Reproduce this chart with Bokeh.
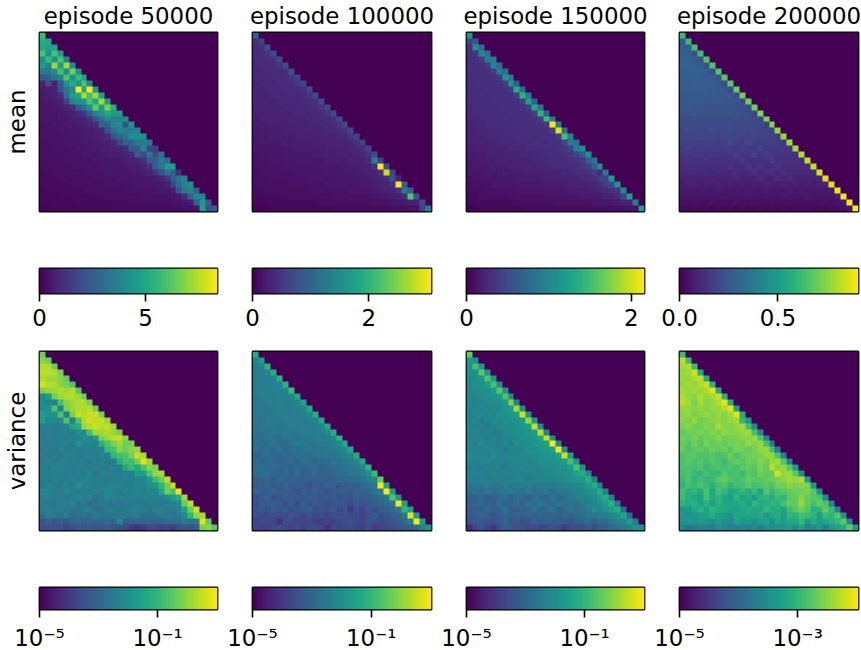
import numpy as np
from bokeh.embed import file_html
from bokeh.layouts import column, row
from bokeh.models import FixedTicker, LinearColorMapper, LogColorMapper, Range1d
from bokeh.palettes import Viridis256
from bokeh.plotting import figure
from bokeh.resources import INLINE

episodes = ["episode 50000", "episode 100000", "episode 150000", "episode 200000"]
row_names = ["mean", "variance"]

# colour-scale upper limits
mean_high = [8.4, 3.08, 2.16, 0.91]
var_high = [10.7, 10.7, 10.7, 0.0107]
var_low = 1e-5
mean_ticks = [[0, 5], [0, 2], [0, 2], [0, 0.5]]
mean_tick_labels = [["0", "5"], ["0", "2"], ["0", "2"], ["0.0", "0.5"]]
var_ticks = [[1e-5, 1e-1], [1e-5, 1e-1], [1e-5, 1e-1], [1e-5, 1e-3]]
var_tick_labels = [["10⁻⁵", "10⁻¹"], ["10⁻⁵", "10⁻¹"], ["10⁻⁵", "10⁻¹"], ["10⁻⁵", "10⁻³"]]

# lower-triangular cells, each as a percentage of that panel's colour scale
mean_50000 = [
[68],
[62,60],
[60,58,58],
[72,50,70,55],
[50,68,50,72,45],
[55,45,85,55,85,50],
[42,40,50,70,48,78,50],
[28,30,38,45,72,50,68,58],
[10,22,10,28,50,62,50,72,48],
[8,8,10,25,38,50,99,60,99,55],
[7,8,9,13,35,55,60,88,70,85,58],
[6,7,8,9,20,45,50,52,72,60,85,55],
[6,6,7,8,10,13,28,38,50,75,55,80,62],
[6,6,6,7,8,9,12,16,30,45,50,60,55,55],
[5,6,6,7,7,8,9,10,14,25,35,48,42,42,50],
[5,5,6,6,7,7,8,9,10,12,30,30,45,50,25,50],
[5,5,5,6,6,7,7,8,8,9,11,25,35,45,42,42,46],
[5,5,5,5,6,6,7,7,8,8,9,11,25,32,38,50,50,50],
[4,5,5,5,5,6,6,7,7,8,8,9,11,20,32,32,42,42,40],
[4,4,5,5,5,5,6,6,7,7,8,8,9,10,13,28,28,45,20,18],
[4,4,4,5,5,5,5,6,6,6,7,7,8,8,9,11,28,22,38,22,38],
[4,4,4,4,5,5,5,5,5,6,6,6,7,7,8,9,10,13,28,30,42,35],
[3,4,4,4,4,5,5,5,5,5,6,6,6,7,7,8,8,10,14,30,38,55,55],
[3,3,4,4,4,4,4,5,5,5,5,6,6,6,6,7,7,8,10,15,25,38,30,13],
[3,3,3,4,4,4,4,4,4,5,5,5,5,6,6,6,6,7,7,8,10,15,30,38,45],
[3,3,3,3,3,4,4,4,4,4,4,5,5,5,5,5,6,6,6,7,7,8,20,35,45,50],
[2,3,3,3,3,3,3,4,4,4,4,4,4,4,5,5,5,5,5,6,6,6,8,25,40,45,30],
[2,2,2,3,3,3,3,3,3,3,4,4,4,4,4,4,4,5,5,5,5,5,6,7,12,30,45,45],
[2,2,2,2,2,2,3,3,3,3,3,3,3,3,3,4,4,4,4,4,4,4,5,5,6,8,30,52,28],
[1,1,2,2,2,2,2,2,2,2,2,2,3,3,3,3,3,3,3,3,3,3,3,4,4,4,5,56,25,28],
]
mean_100000 = [
[30],
[14,18],
[12,14,24],
[12,12,15,24],
[12,12,12,14,22],
[11,12,12,12,15,24],
[11,11,12,12,12,14,25],
[11,11,11,12,12,12,16,20],
[10,11,11,11,12,12,12,15,20],
[10,10,11,11,11,12,12,12,14,22],
[10,10,10,11,11,11,12,12,12,15,22],
[10,10,10,10,11,11,11,11,12,12,14,22],
[9,9,10,10,10,11,11,11,11,12,12,15,22],
[9,9,9,10,10,10,10,11,11,11,12,12,15,22],
[8,9,9,9,9,10,10,10,10,11,11,11,12,14,22],
[8,8,8,9,9,9,9,10,10,10,10,11,11,12,15,22],
[7,8,8,8,8,9,9,9,9,10,10,10,11,11,12,14,20],
[7,7,7,8,8,8,8,9,9,9,9,10,10,10,11,11,15,20],
[6,7,7,7,7,8,8,8,8,8,9,9,9,10,10,10,11,14,18],
[6,6,6,7,7,7,7,8,8,8,8,8,9,9,9,10,10,11,14,20],
[5,6,6,6,6,7,7,7,7,7,8,8,8,8,9,9,9,10,11,15,24],
[5,5,5,6,6,6,6,7,7,7,7,7,8,8,8,8,9,9,10,12,45,18],
[5,5,5,5,5,6,6,6,6,6,7,7,7,7,7,8,8,8,9,10,14,99,24],
[4,5,5,5,5,5,5,6,6,6,6,6,7,7,7,7,7,8,8,9,10,14,92,20],
[4,4,4,5,5,5,5,5,5,6,6,6,6,6,6,7,7,7,7,8,9,10,14,25,10],
[4,4,4,4,4,4,5,5,5,5,5,5,6,6,6,6,6,6,7,7,8,9,10,14,99,30],
[3,3,4,4,4,4,4,4,4,5,5,5,5,5,5,5,6,6,6,6,7,8,9,10,14,40,30],
[3,3,3,3,3,4,4,4,4,4,4,4,4,5,5,5,5,5,5,5,6,6,7,8,9,12,72,25],
[2,2,3,3,3,3,3,3,3,3,3,4,4,4,4,4,4,4,4,4,5,5,5,6,6,7,9,10,22],
[1,1,1,2,2,2,2,2,2,2,2,2,2,3,3,3,3,3,3,3,3,3,3,4,4,4,5,6,20,42],
]
mean_150000 = [
[52],
[20,26],
[14,50,36],
[14,16,48,38],
[14,14,18,42,42],
[14,14,14,17,45,35],
[14,14,14,14,17,42,35],
[13,14,14,14,14,18,52,40],
[13,13,14,14,14,14,18,52,30],
[13,13,13,14,14,14,14,18,62,35],
[12,13,13,13,14,14,14,14,18,65,42],
[12,12,13,13,13,14,14,14,14,18,55,30],
[12,12,12,13,13,13,14,14,14,14,18,60,38],
[11,12,12,12,13,13,13,14,14,14,14,18,65,30],
[11,11,12,12,12,13,13,13,14,14,14,14,18,68,42],
[10,11,11,12,12,12,13,13,13,14,14,14,14,18,99,40],
[10,10,11,11,12,12,12,13,13,13,14,14,14,14,18,95,38],
[9,10,10,11,11,11,12,12,12,13,13,13,14,14,14,18,70,42],
[9,9,10,10,10,11,11,11,12,12,12,13,13,13,14,14,20,42,38],
[8,9,9,9,10,10,10,11,11,11,12,12,12,13,13,14,15,20,42,48],
[8,8,8,9,9,9,10,10,10,11,11,11,12,12,13,13,14,15,20,30,50],
[7,7,8,8,8,9,9,9,10,10,10,11,11,11,12,12,13,14,15,18,28,38],
[6,7,7,7,8,8,8,9,9,9,10,10,10,11,11,12,12,13,14,15,18,30,50],
[6,6,6,7,7,7,8,8,8,8,9,9,9,10,10,10,11,11,12,13,14,18,12,40],
[5,5,6,6,6,7,7,7,7,8,8,8,8,9,9,9,10,10,10,11,12,14,18,20,55],
[4,5,5,5,6,6,6,6,7,7,7,7,7,8,8,8,8,9,9,10,10,11,14,18,22,52],
[4,4,4,5,5,5,5,5,6,6,6,6,6,7,7,7,7,8,8,8,9,9,10,12,14,15,48],
[3,3,4,4,4,4,4,5,5,5,5,5,5,5,6,6,6,6,6,7,7,8,8,9,10,12,20,55],
[2,3,3,3,3,3,3,3,4,4,4,4,4,4,4,5,5,5,5,5,5,6,6,6,7,8,10,10,42],
[1,1,2,2,2,2,2,2,2,2,3,3,3,3,3,3,3,3,3,3,3,4,4,4,4,4,5,5,5,55],
]
mean_200000 = [
[68],
[28,68],
[30,28,70],
[30,30,25,68],
[31,30,29,25,72],
[31,31,30,29,25,72],
[30,31,30,30,29,24,72],
[30,30,30,30,29,29,25,74],
[29,29,30,29,29,29,28,22,74],
[29,29,29,29,29,28,28,28,24,76],
[28,28,28,28,28,28,27,27,27,23,78],
[27,27,28,27,27,27,27,26,26,26,22,78],
[26,27,26,26,26,26,26,26,25,25,25,22,78],
[25,25,26,25,25,25,25,25,25,24,24,24,21,80],
[24,24,24,24,24,24,24,24,23,24,23,23,23,20,80],
[23,23,23,23,23,23,22,23,23,22,22,22,22,22,19,82],
[21,22,22,22,21,22,21,21,22,21,21,21,21,20,20,18,82],
[20,20,20,21,20,20,20,20,20,20,20,19,20,19,19,19,17,84],
[19,19,19,19,19,19,18,19,22,19,18,22,18,18,18,18,18,16,85],
[17,18,17,18,17,17,17,18,17,17,18,17,17,20,17,17,16,16,15,86],
[16,16,16,16,16,16,16,15,16,19,15,15,20,15,18,15,15,15,15,14,88],
[14,15,14,14,15,14,14,14,14,14,17,14,14,14,14,18,14,14,14,14,13,90],
[13,13,13,13,13,13,13,13,15,13,13,16,13,15,13,13,16,13,13,12,12,12,90],
[11,12,12,11,12,11,12,11,11,12,11,11,14,11,12,14,11,14,11,11,11,11,11,93],
[10,10,10,10,10,10,10,10,10,11,10,10,10,12,10,10,13,10,12,10,10,10,10,10,95],
[8,9,9,8,9,8,9,8,9,8,9,8,9,8,10,9,8,10,8,10,8,9,8,9,9,95],
[7,7,7,7,7,7,8,7,7,7,7,8,7,7,8,7,7,7,8,7,8,7,7,7,7,7,97],
[6,6,6,6,6,6,6,6,6,6,6,6,6,6,6,6,6,7,6,6,6,7,6,6,6,6,8,98],
[4,4,5,4,4,5,4,4,4,5,4,4,5,4,4,5,4,4,5,4,4,4,4,4,5,4,5,6,98],
[2,2,3,2,3,2,3,2,3,2,3,2,2,3,2,3,2,3,2,3,3,3,2,3,2,3,3,4,6,100],
]
var_50000 = [
[78],
[82,78],
[88,88,78],
[90,90,88,80],
[88,85,85,82,76],
[94,88,88,82,80,72],
[80,84,85,88,85,88,74],
[48,56,78,85,88,88,85,78],
[48,46,42,70,82,85,88,88,80],
[50,50,72,45,80,84,88,88,90,78],
[56,50,50,72,42,80,92,88,92,92,80],
[56,48,48,48,72,44,72,88,92,90,92,84],
[42,42,42,42,45,58,62,85,88,92,90,90,84],
[42,44,42,42,44,42,50,46,70,85,85,88,85,80],
[42,44,42,44,42,44,44,50,46,54,80,85,90,92,82],
[42,40,42,42,44,42,50,44,46,44,64,72,80,85,78,80],
[40,42,40,46,40,42,42,44,42,44,46,68,70,82,78,82,84],
[42,40,42,40,42,42,40,42,44,42,46,44,66,70,72,80,92,86],
[40,42,40,44,44,42,42,42,40,42,44,42,42,62,70,68,78,95,84],
[44,42,46,44,42,42,44,44,42,42,42,40,44,42,60,68,60,72,82,80],
[42,42,44,44,42,42,44,42,46,40,44,42,42,42,44,44,56,56,72,84,86],
[42,42,44,42,42,44,44,46,46,42,42,40,42,42,44,42,44,46,52,68,78,90],
[40,46,42,42,44,42,50,44,46,42,42,44,46,46,44,42,44,44,50,52,66,78,92],
[46,46,42,40,46,42,42,44,42,44,42,46,46,42,46,44,46,42,46,44,60,78,70,98],
[44,44,40,42,40,42,46,42,44,38,40,46,44,42,42,44,42,44,44,44,44,48,56,62,85],
[42,40,38,42,42,46,38,40,36,38,40,40,38,38,40,40,42,40,42,40,40,42,44,48,78,90],
[42,44,40,42,40,38,38,42,44,36,38,42,40,38,42,42,44,42,38,44,42,40,40,44,58,78,92],
[36,42,40,38,42,36,36,38,36,42,38,38,40,38,40,40,42,36,36,38,40,42,38,40,48,66,84,86],
[26,30,26,30,26,32,34,30,32,32,32,34,32,46,30,32,32,32,34,32,32,34,36,34,40,38,40,96,76],
[24,26,26,24,20,24,28,26,28,26,26,28,26,24,22,16,14,16,22,22,18,20,16,24,26,24,28,80,82,74],
]
var_100000 = [
[62],
[44,56],
[42,44,64],
[42,42,46,62],
[42,42,42,44,64],
[42,42,42,44,44,64],
[42,42,44,44,44,46,68],
[40,42,42,42,44,44,46,60],
[40,40,42,42,44,42,44,46,58],
[40,40,40,42,42,42,42,44,46,60],
[40,40,40,40,42,42,42,42,44,48,62],
[40,38,40,40,40,42,42,42,42,44,46,60],
[38,40,40,40,40,40,42,42,42,42,44,46,60],
[38,38,38,40,38,40,40,40,42,42,42,44,48,62],
[36,36,38,38,36,38,40,38,40,42,42,42,44,46,64],
[36,36,34,38,36,34,38,40,40,38,40,42,42,44,48,62],
[38,34,36,34,38,34,36,36,38,40,38,40,40,42,44,48,60],
[32,34,36,34,32,36,34,36,36,34,38,38,40,38,42,44,46,62],
[34,32,34,36,32,34,36,32,36,36,32,36,36,38,38,40,42,46,60],
[36,38,34,36,34,34,32,36,32,34,36,32,34,36,36,38,40,42,46,64],
[34,36,36,34,32,34,30,36,30,32,34,30,32,34,36,36,38,40,44,50,68],
[30,32,34,30,34,32,32,30,30,30,30,32,30,32,34,34,34,36,38,42,46,76],
[28,30,32,28,30,32,28,30,28,26,30,28,30,30,26,30,32,30,34,36,40,99,58],
[32,30,28,32,28,30,30,26,30,28,30,28,26,28,30,30,28,32,30,32,38,40,99,54],
[26,28,32,24,26,30,28,30,26,30,28,26,28,30,24,28,26,30,28,30,32,36,40,72,52],
[24,30,28,30,28,24,28,24,30,26,28,26,24,26,28,26,22,28,26,28,30,32,36,38,99,58],
[26,28,24,30,26,28,24,26,28,30,24,26,24,28,22,26,16,26,20,26,24,28,30,34,40,66,56],
[24,22,22,24,22,24,26,24,22,26,22,24,22,24,24,26,22,24,20,24,28,24,26,30,32,40,96,56],
[20,22,24,20,14,24,22,20,20,22,18,18,20,18,22,24,24,22,20,26,24,22,24,26,28,34,42,99,54],
[20,18,20,22,24,22,18,22,18,22,24,20,14,22,20,22,24,20,20,24,18,20,22,24,26,28,30,34,44,52],
]
var_150000 = [
[76],
[52,50],
[50,70,54],
[50,50,74,52],
[48,50,52,72,54],
[48,50,50,54,72,48],
[46,48,50,50,54,74,50],
[46,46,48,50,50,54,72,48],
[46,44,46,48,48,50,54,82,46],
[44,46,46,46,48,48,52,54,86,48],
[44,46,48,46,46,50,50,52,56,92,50],
[44,46,42,46,48,46,50,50,52,56,84,54],
[46,44,46,42,46,46,48,50,50,52,56,90,48],
[44,46,44,46,42,44,48,48,50,50,52,56,90,44],
[44,44,46,42,46,44,46,46,48,50,50,52,58,92,50],
[46,44,48,46,44,42,46,44,50,48,50,52,52,58,99,46],
[44,46,44,46,46,46,42,46,46,48,50,50,52,54,58,98,50],
[48,46,46,44,48,44,46,46,46,48,48,48,50,52,52,58,92,56],
[46,44,46,46,44,46,44,46,46,46,46,48,50,50,50,52,56,70,52],
[42,44,42,44,44,46,42,46,44,46,44,46,48,48,48,50,50,56,72,50],
[44,46,44,42,46,42,46,44,46,44,46,46,46,48,48,50,50,52,58,62,48],
[44,42,44,42,44,44,42,44,44,46,42,44,44,46,46,48,48,50,52,54,64,46],
[38,40,40,42,38,40,42,40,40,42,42,40,40,42,42,44,44,46,46,50,54,62,44],
[36,38,36,38,36,38,40,42,38,38,40,38,38,40,36,40,40,42,44,46,50,52,62,44],
[30,32,34,30,32,34,36,32,36,34,30,36,34,32,38,34,36,40,42,44,46,48,56,62,42],
[30,32,34,32,30,36,32,34,36,32,38,36,38,36,34,38,36,38,36,40,44,46,50,56,64,40],
[28,30,30,34,30,32,36,30,28,32,34,36,32,34,38,32,34,38,36,38,42,50,46,50,56,62,36],
[28,30,32,30,26,30,34,30,32,30,32,30,34,30,32,30,34,32,34,36,40,38,42,44,48,50,60,34],
[24,28,28,26,26,28,32,26,28,24,26,30,28,30,28,30,28,26,30,32,34,30,36,34,40,44,46,56,40],
[12,22,26,20,16,24,30,28,26,26,22,24,20,22,26,24,18,22,24,24,28,24,28,30,34,36,40,44,50,52],
]
var_200000 = [
[68],
[90,68],
[86,88,68],
[84,86,92,62],
[84,84,88,90,62],
[84,86,84,88,92,64],
[86,84,86,84,88,96,62],
[88,84,82,88,84,86,92,64],
[90,86,80,86,82,84,88,96,62],
[84,84,82,84,82,84,84,88,96,58],
[82,84,80,82,84,82,84,82,86,96,62],
[82,80,84,78,80,82,84,82,84,86,66,52],
[80,82,78,78,82,80,86,82,82,84,86,70,46],
[76,78,78,80,78,82,80,84,82,82,84,86,70,46],
[78,76,80,76,78,78,82,78,80,80,82,82,84,72,44],
[76,74,78,74,80,76,78,76,78,80,78,84,82,84,70,40],
[76,72,74,76,74,78,76,78,74,80,78,76,80,84,84,70,42],
[72,74,74,72,72,74,70,72,78,72,76,78,80,80,84,84,72,44],
[72,74,72,74,70,74,72,68,74,76,74,78,76,82,78,84,86,74,42],
[72,72,70,72,68,70,72,70,72,70,74,76,74,80,76,90,82,84,74,52],
[70,72,68,66,70,68,68,74,70,72,68,74,72,78,76,76,94,84,84,74,48],
[68,72,66,70,66,68,74,76,72,70,72,76,74,74,76,78,80,82,86,84,88,54],
[66,70,68,72,68,64,70,72,66,70,70,74,70,72,74,72,78,78,82,80,82,80,52],
[70,64,66,62,72,60,70,66,60,62,66,62,68,60,74,66,72,74,76,78,78,80,74,50],
[68,62,60,58,70,62,66,60,56,66,58,62,54,64,66,62,68,66,74,76,82,76,74,72,48],
[64,62,64,58,64,58,64,60,60,60,62,56,66,62,62,66,64,70,76,76,84,76,70,76,72,46],
[52,54,60,64,58,66,62,60,58,56,60,62,60,60,66,62,62,58,68,74,78,74,64,66,76,68,44],
[52,50,52,56,58,62,56,56,50,60,60,60,58,62,52,60,62,56,66,64,70,68,66,56,68,66,74,50],
[50,54,52,54,52,50,54,50,48,58,52,54,50,56,58,48,58,56,60,60,66,52,62,56,60,62,66,74,46],
[46,38,42,44,44,42,50,46,44,44,48,44,48,42,50,50,50,52,54,48,56,46,48,54,42,54,58,62,76,54],
]

mean_panels = [mean_50000, mean_100000, mean_150000, mean_200000]
var_panels = [var_50000, var_100000, var_150000, var_200000]

FONT = "DejaVu Sans"
SIZE = "22.9px"
N = 30
LEFT = [39, 33, 31, 31]
FRAME_W = [178, 179, 178, 179]
RIGHT = [2, 4, 4, 2]


def to_matrix(rows):
    m = np.zeros((N, N))
    for r, cells in enumerate(rows):
        assert len(cells) == r + 1, (r, len(cells))
        m[r, : r + 1] = cells
    return m


def heat_figure(col, matrix, mapper, height, top, bottom, title=None, ylabel=None):
    p = figure(width=LEFT[col] + FRAME_W[col] + RIGHT[col], height=height,
               x_range=Range1d(0, N), y_range=Range1d(0, N),
               output_backend="svg", toolbar_location=None,
               min_border_left=LEFT[col], min_border_right=RIGHT[col],
               min_border_top=top, min_border_bottom=bottom, title=title)
    p.image(image=[np.flipud(matrix)], x=0, y=0, dw=N, dh=N, color_mapper=mapper)
    p.grid.visible = False
    p.xaxis.visible = False
    p.outline_line_color = "black"
    p.outline_line_width = 1.8
    p.background_fill_color = Viridis256[0]
    p.border_fill_color = None
    if title:
        p.title.text_font = FONT
        p.title.text_font_size = SIZE
        p.title.text_font_style = "normal"
        p.title.text_color = "black"
        p.title.align = "center"
        p.title.text_line_height = 1.0
        p.title.standoff = 7
    if ylabel:
        ax = p.yaxis[0]
        ax.axis_label = ylabel
        ax.axis_label_text_font = FONT
        ax.axis_label_text_font_size = SIZE
        ax.axis_label_text_font_style = "normal"
        ax.axis_label_text_color = "black"
        ax.axis_label_standoff = 10
        ax.major_tick_line_color = None
        ax.minor_tick_line_color = None
        ax.axis_line_color = None
        ax.major_label_text_font_size = "0px"
        ax.ticker = FixedTicker(ticks=[])
    else:
        p.yaxis.visible = False
    return p


def bar_figure(col, low, high, ticks, labels, log, height, top, bottom):
    kw = {"x_axis_type": "log"} if log else {}
    p = figure(width=LEFT[col] + FRAME_W[col] + RIGHT[col], height=height,
               x_range=Range1d(low, high), y_range=Range1d(0, 1),
               output_backend="svg", toolbar_location=None,
               min_border_left=LEFT[col], min_border_right=RIGHT[col],
               min_border_top=top, min_border_bottom=bottom, **kw)
    gradient = np.linspace(0, 1, 256).reshape(1, 256)
    p.image(image=[gradient], x=low, y=0, dw=high - low, dh=1,
            color_mapper=LinearColorMapper(palette=Viridis256, low=0, high=1))
    p.grid.visible = False
    p.yaxis.visible = False
    p.outline_line_color = "black"
    p.outline_line_width = 1.8
    p.border_fill_color = None
    ax = p.xaxis[0]
    ax.ticker = FixedTicker(ticks=ticks)
    ax.major_label_overrides = dict(zip(ticks, labels))
    ax.major_tick_in = 0
    ax.major_tick_out = 8
    ax.major_tick_line_width = 1.6
    ax.major_tick_line_color = "black"
    ax.minor_tick_line_color = None
    ax.axis_line_color = None
    ax.major_label_text_font = FONT
    ax.major_label_text_font_size = SIZE
    ax.major_label_text_color = "black"
    ax.major_label_standoff = 7
    return p


columns = []
for c in range(4):
    mean_high_c = mean_high[c]
    mean_m = to_matrix(mean_panels[c]) / 100 * mean_high_c
    var_pct = to_matrix(var_panels[c])
    lo_exp, hi_exp = np.log10(var_low), np.log10(var_high[c])
    var_m = 10 ** (lo_exp + var_pct / 100 * (hi_exp - lo_exp))
    col_figs = [
        heat_figure(c, mean_m, LinearColorMapper(palette=Viridis256, low=0, high=mean_high_c),
                    243, 35, 29, title=episodes[c], ylabel=row_names[0] if c == 0 else None),
        bar_figure(c, 0, mean_high_c, mean_ticks[c], mean_tick_labels[c], False, 96, 28, 43),
        heat_figure(c, var_m, LogColorMapper(palette=Viridis256, low=var_low, high=var_high[c]),
                    224, 15, 30, ylabel=row_names[1] if c == 0 else None),
        bar_figure(c, var_low, var_high[c], var_ticks[c], var_tick_labels[c], True, 93, 27, 42),
    ]
    columns.append(column(*col_figs, spacing=0))

layout = row(*columns, spacing=0, margin=(-3, 0, -4, 0))
open("out.html", "w").write(file_html(layout, INLINE))
